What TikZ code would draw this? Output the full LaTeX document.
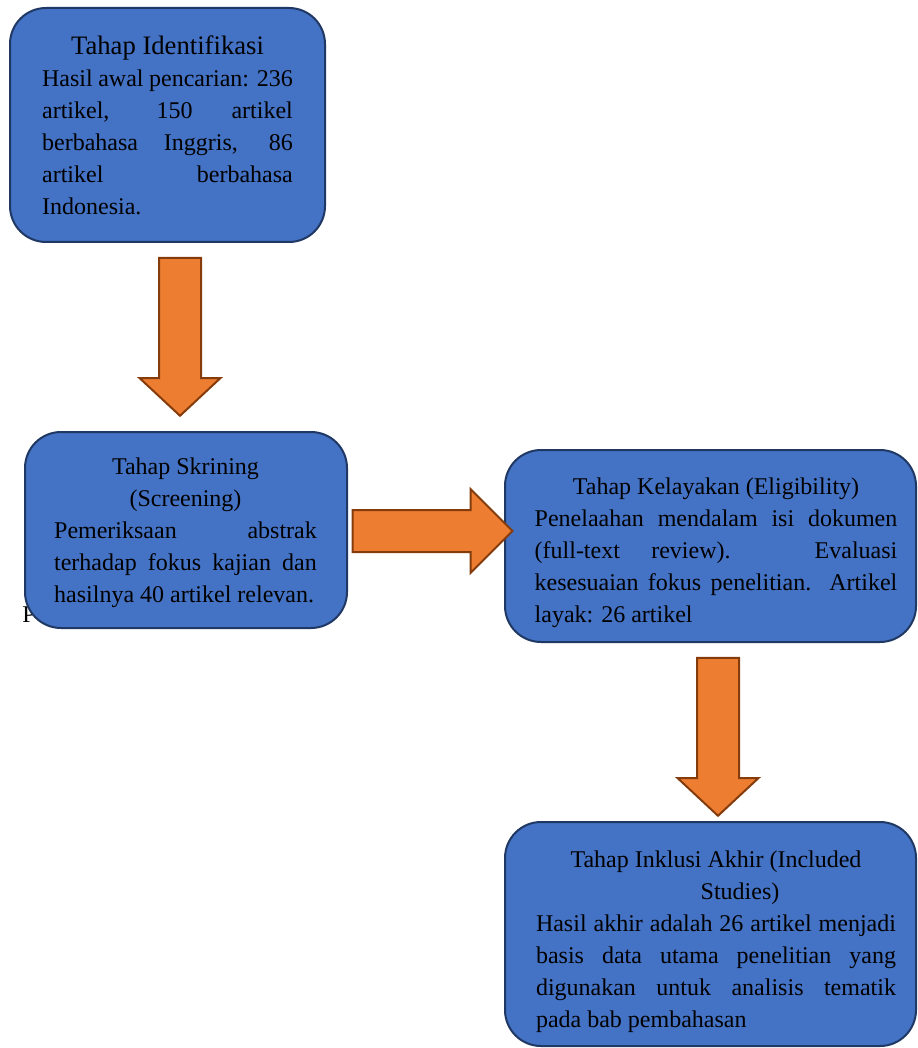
\documentclass[tikz,border=0pt]{standalone}
\usepackage{fontspec}
\setmainfont{Liberation Serif}
\usetikzlibrary{shapes.arrows}
\definecolor{boxblue}{HTML}{4472C4}
\definecolor{boxline}{HTML}{1F3864}
\definecolor{arrorange}{HTML}{ED7D31}
\definecolor{arrline}{HTML}{843C0C}

\begin{document}
\begin{tikzpicture}[x=0.75pt,y=-0.75pt,
	tahap/.style={draw=boxline,line width=1.5pt,fill=boxblue,rounded corners=27pt},
	isi/.style={align=justify,inner sep=0pt,font=\fontsize{18}{24}\selectfont},
	panah/.style={single arrow,draw=arrline,line width=1.5pt,fill=arrorange,inner xsep=0pt,inner ysep=15pt,single arrow head extend=14.6pt,single arrow tip angle=94,minimum height=118.5pt}]
	\useasboundingbox (0,0) rectangle (917,1048);
	\node[isi,anchor=base west] (sisa) at (22,622) {P};
	% kotak tahap
	\node[tahap,minimum width=236.25pt,minimum height=175.5pt] (identifikasi) at (167.5,125) {};
	\node[tahap,minimum width=241.5pt,minimum height=147pt] (skrining) at (186,530) {};
	\node[tahap,minimum width=308.25pt,minimum height=144pt] (kelayakan) at (710.5,546) {};
	\node[tahap,minimum width=308.25pt,minimum height=168pt] (inklusi) at (710.5,934) {};
	% isi kotak
	\node[isi,text width=188pt] (teks1) at (167.5,125) {{\fontsize{20}{24}\selectfont\centering Tahap Identifikasi\par}Hasil awal pencarian: 236\linebreak artikel, 150 artikel\linebreak berbahasa Inggris, 86\linebreak artikel berbahasa\linebreak Indonesia.};
	\node[isi,text width=197pt] (teks2) at (185.5,533) {{\centering Tahap Skrining\par (Screening)\par}Pemeriksaan abstrak\linebreak terhadap fokus kajian dan\linebreak hasilnya 40 artikel relevan.};
	\node[isi,text width=272pt] (teks3) at (716,553) {{\centering Tahap Kelayakan (Eligibility)\par}Penelaahan mendalam isi dokumen\linebreak (full-text review). Evaluasi\linebreak kesesuaian fokus penelitian. Artikel\linebreak layak: 26 artikel};
	\node[isi,text width=270pt] (teks4) at (716,942) {{\centering Tahap Inklusi Akhir (Included\par\hspace*{36pt}Studies)\par}Hasil akhir adalah 26 artikel menjadi\linebreak basis data utama penelitian yang\linebreak digunakan untuk analisis tematik\linebreak pada bab pembahasan};
	% panah
	\node[panah,rotate=-90] (panah1) at (180,327) {};
	\node[panah,minimum height=120pt,single arrow head extend=15.75pt,single arrow tip angle=90] (panah2) at (422,531) {};
	\node[panah,rotate=-90] (panah3) at (718,727) {};
\end{tikzpicture}
\end{document}
